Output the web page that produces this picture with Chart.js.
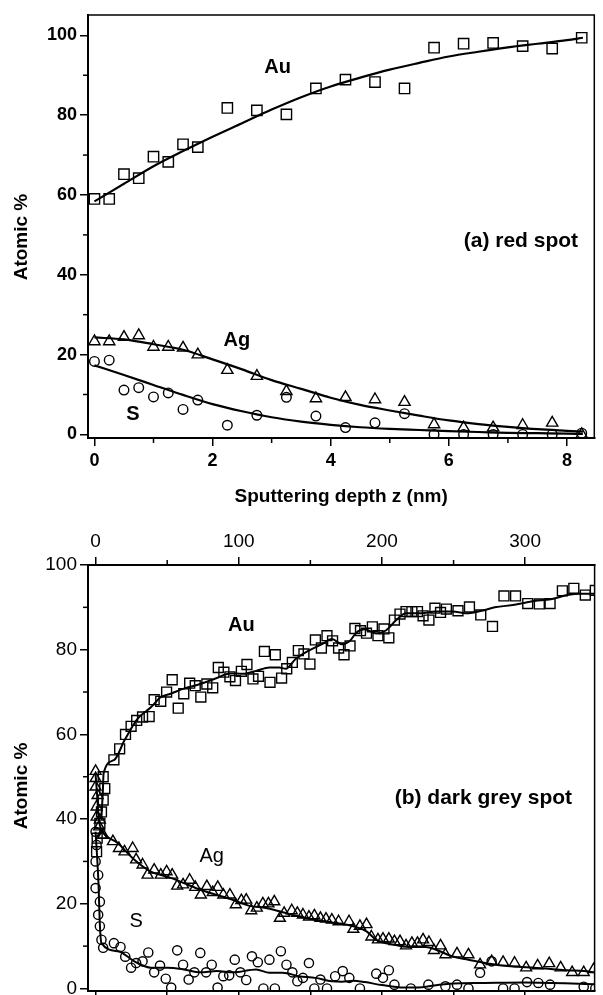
<!DOCTYPE html>
<html><head><meta charset="utf-8">
<script src="https://cdn.jsdelivr.net/npm/chart.js@4.4.1/dist/chart.umd.min.js"></script>
<style>
html,body{margin:0;padding:0;overflow:hidden;background:#fff;width:603px;height:995px}
#c1{position:absolute;left:0;top:0}
#c2{position:absolute;left:0;top:520px}
</style></head><body>
<canvas id="c1" width="603" height="520"></canvas>
<canvas id="c2" width="603" height="490"></canvas>
<script>
// ---------- Panel (a): red spot ----------
const aDepth = [0,0.25,0.5,0.75,1,1.25,1.5,1.75,2.25,2.75,3.25,3.75,4.25,4.75,5.25,5.75,6.25,6.75,7.25,7.75,8.25];
const aAu = [59,59,65.2,64.2,69.6,68.3,72.7,72,81.8,81.2,80.2,86.7,88.9,88.3,86.7,96.9,97.9,98.1,97.3,96.7,99.4];
const aAg = [23.3,23.3,24.4,24.8,21.9,21.9,21.7,20,16.1,14.6,10.8,9,9.3,8.75,8.1,2.5,1.7,1.7,2.3,2.9,0];
const aS  = [18.3,18.6,11.1,11.7,9.4,10.4,6.25,8.6,2.3,4.8,9.3,4.6,1.7,2.9,5.2,0,0,0,0,0,0.3];
const aFitX  = [0,0.5,1,1.5,2,2.5,3,3.5,4,4.5,5,5.5,6,6.5,7,7.5,8,8.27];
const aAuFit = [58.4,62.8,67.2,71.0,74.6,78.0,81.4,84.5,87.2,89.4,91.4,93.1,94.7,95.9,97.0,97.9,98.8,99.4];
const aAgFit = [24.3,23.8,22.6,21.2,18.8,16.3,13.6,11.4,9.2,7.4,6.0,4.7,3.5,2.6,1.9,1.3,0.9,0.7];
const aSFit  = [17.3,14.9,12.4,9.9,7.6,5.8,4.3,3.2,2.4,1.8,1.4,1.1,0.8,0.6,0.4,0.3,0.2,0.1];
const aXTicks = [0,2,4,6,8];
const aYTicks = [0,20,40,60,80,100];

// ---------- Panel (b): dark grey spot ----------
const bAuX = [0.7,1.1,3,4.1,5.3,6.4,5.3,12.8,16.8,20.9,24.8,28.7,32.8,37.4,40.9,45.5,49.6,53.5,57.7,61.6,65.7,69.6,73.5,77.7,81.8,85.7,89.6,93.8,97.7,101.8,105.7,109.9,113.8,117.9,121.8,125.5,129.9,133.5,137.4,141.6,145.5,149.7,153.5,157.7,161.6,165.5,169.7,173.5,177.7,181.1,185,189.2,193.3,197.2,201.4,204.8,208.7,212.6,216.8,220.9,224.8,228.7,232.8,237,240.9,245,253.1,261.1,269,277.2,285.2,293.3,301.8,309.9,317.4,326,334,342,349];
const bAuY = [32.3,35.5,39,41.7,44.5,47.2,50,54,56.6,60,61.9,63.3,64.1,64.2,68.2,67.8,70,72.9,66.2,69.6,72.1,71.5,68.8,71.9,71,75.8,74.7,73.6,72.7,74.9,76.5,73.1,73.7,79.6,72.3,78.8,73.3,75.5,77,79.8,79,76.6,82.3,80.4,83.3,82.1,80.4,78.8,80.9,85,84.5,83.9,85.4,83.3,84.9,82.8,87,88.4,89,89,89,88,87,89.8,88.8,89.6,89.2,90.1,88.2,85.5,92.7,92.7,90.9,90.8,90.9,93.9,94.5,92.9,94];
const bAgX = [0,0,0,1.4,0.7,0.7,3,2.5,4.1,5.3,12.1,16.3,20.2,25.9,28.3,32.8,36.3,40.9,45.5,49.6,53.5,57,61.1,65.7,69.6,73.5,77.7,81.8,85.3,89.2,93.8,97.9,101.8,105.2,108.7,112.6,116.8,120.7,124.8,128.7,131.7,137,140.9,144.8,149,152.8,157,160.9,165,169.7,177,180,184.6,189.2,192.6,197.2,200.7,204.8,208.7,212.6,216.8,220.9,224.8,228.7,232.8,236.3,240.9,244.3,252.4,260.4,268.5,276.6,284.6,292.6,300.7,308.7,316.8,324.8,332.8,340.9,347.8];
const bAgY = [51.3,49.6,47.6,45.6,42.9,40.5,39.8,38.2,36.2,36.2,34.7,33.1,32.3,33.1,30.4,29.2,26.8,28,26.8,27.6,26.8,24.2,24.5,25.6,23.9,22.1,24.1,22.7,23.9,22.1,22.1,19.8,20.8,20.9,18.4,19,20,20,20.5,16.6,17.8,18.4,17.8,17.4,16.9,17.2,16.6,16.4,16.2,15.8,15.8,14,14.7,15.1,12.2,11.5,11.7,11.7,11.1,11.1,10.1,10.7,10.7,11.5,10.9,9,10.1,8,8.2,8,5.6,6.4,6.2,6,4.9,5.4,5.9,4.9,3.8,3.8,4.5];
const bSX = [0,0.7,0,1.8,0,3,1.8,3,4.1,5.3,12.8,17.4,20.7,24.8,28.3,32.8,36.8,40.9,45,49,52.8,57,61.1,65,69,73.1,77.2,81.1,85.2,89.2,93.3,97.2,101.1,105.2,109.2,113.3,117.2,121.4,125.2,129.4,133.3,137.4,140.9,144.8,149,152.8,157,161.6,167.3,172.6,177.2,184.6,196,200.7,204.8,208.7,220.2,232.4,244.3,252.4,260.4,268.5,276.6,284.6,292.6,301.3,309.2,317.4,340.9,349];
const bSY = [37,33.9,30,26.8,23.7,20.5,17.4,14.7,11.5,9.6,10.7,9.8,7.5,4.9,6,6.4,8.5,3.8,5.4,2.3,0.2,9,5.6,2.1,3.8,8.4,3.8,5.6,0.2,2.9,3.1,6.8,3.8,2,7.6,6.2,0,6.8,0,8.8,5.6,3.8,1.7,2.5,6,0,2.1,0,2.9,4.1,2.5,0,3.5,2.5,4.3,0.9,0,0.9,0.5,0.9,0,3.7,6.4,0,0,1.5,1.3,0.9,0.4,0];
const bAuFitX = [4,5,5.6,12.8,20.2,29.4,38.6,45.5,52.4,61.6,73.1,84.6,93.8,103,112.1,121.4,128.3,132.8,139.7,149,158.1,165,172,177.7,182,188,196,203,210,216.8,225.9,237.4,249,260.4,269.7,278.8,292.6,306.4,317.9,329.4,338.6,349];
const bAuFitY = [40,46,50.8,53.9,58.6,63.7,66.4,68.8,69.6,70.8,71.9,73.3,74.4,74.3,75,75.8,75.8,75.5,77.8,79.8,81.3,82.5,81.3,82.1,84,84.8,83.8,84.6,87,88.6,88.6,89,89,88.6,89.2,90,90.6,91.5,91.9,92.9,93.2,93.2];
const bAgFitX = [0,1,2,3,4.1,15.6,27.1,38.6,50.1,61.6,73.1,84.6,96.1,107.6,119,130.6,142.1,153.5,165,172,180,189.2,196,207.6,219,230.6,237.4,249,260.4,271.9,283.4,294.9,306.4,317.9,329.4,340.9,349];
const bAgFitY = [50.5,46,41,38.5,37.4,34.3,30.4,27.6,26.4,24.9,23.3,22.1,20.9,19.5,19,18,17,16.2,15.6,15.3,14.7,13.5,11.5,10.4,9.8,9.8,9.2,7.6,6.8,6,5.4,5.1,4.9,4.6,4.3,4.1,3.8];
const bSFitX = [0,2,3,4.1,15.6,27.1,38.6,50.1,61.6,73.1,84.6,96.1,112.1,121.4,130.6,142.1,153.5,165,172,180,188,200,215,228,240,250,270,300,349];
const bSFitY = [37,25,15,10.7,8.8,6.4,4.9,4.9,4.5,3.8,4.1,3.8,4.5,3.7,3.7,2.9,2.5,1.7,1.6,1.8,1.5,0.8,0.2,0.3,0.9,1.2,1.3,1.4,1.0];
const bXTicks = [0,100,200,300];
const bXTicksBottom = [0,50,100,150,200,250,300];
const bYTicks = [0,20,40,60,80,100];

const F = "'Liberation Sans', Arial, Helvetica, sans-serif";
const pts = (xs, ys) => xs.map((x, i) => ({x, y: ys[i]}));

function makeDecor(cfg) {
  return {
    id: 'decor',
    afterDraw(chart) {
      const ctx = chart.ctx, a = chart.chartArea;
      ctx.save();
      ctx.strokeStyle = '#000';
      ctx.lineWidth = cfg.frameWidth;
      ctx.beginPath();
      ctx.moveTo(a.left, a.top); ctx.lineTo(a.right, a.top); ctx.lineTo(a.right, a.bottom);
      ctx.stroke();
      cfg.minor.forEach(m => {
        const s = chart.scales[m.id];
        ctx.lineWidth = m.w;
        m.values.forEach(v => {
          const p = s.getPixelForValue(v);
          ctx.beginPath();
          if (s.isHorizontal()) {
            const y = m.side === 'top' ? a.top : a.bottom;
            ctx.moveTo(p, y); ctx.lineTo(p, m.side === 'top' ? y - m.len : y + m.len);
          } else {
            ctx.moveTo(a.left, p); ctx.lineTo(a.left - m.len, p);
          }
          ctx.stroke();
        });
      });
      cfg.labels.forEach(l => {
        ctx.font = l.font; ctx.fillStyle = '#000';
        ctx.textAlign = 'center'; ctx.textBaseline = 'middle';
        ctx.fillText(l.text, chart.scales.x.getPixelForValue(l.x), chart.scales.y.getPixelForValue(l.y));
      });
      ctx.restore();
    }
  };
}

function markers(data, style, r, order) {
  return {data, showLine: false, pointStyle: style, pointRadius: r, pointBorderWidth: 1.4,
    pointBorderColor: '#000', pointBackgroundColor: 'rgba(0,0,0,0)', order};
}
function fitLine(data, w) {
  return {data, showLine: true, pointRadius: 0, borderColor: '#000', borderWidth: w,
    cubicInterpolationMode: 'monotone', fill: false, order: 0};
}
const axisBase = (font) => ({
  grid: {drawOnChartArea: false, drawTicks: true, tickLength: 8, color: '#000', lineWidth: 1.5},
  border: {display: true, color: '#000', width: 2},
  ticks: {font, color: '#000', padding: 3, includeBounds: false}
});

// ---------- Chart (a) ----------
{
  const tf = {family: F, size: 18, weight: 'bold'};
  const xa = axisBase(tf), ya = axisBase(tf);
  new Chart(document.getElementById('c1'), {
    type: 'scatter',
    data: {datasets: [
      fitLine(pts(aFitX, aAuFit), 2.2), fitLine(pts(aFitX, aAgFit), 2.2), fitLine(pts(aFitX, aSFit), 2.2),
      markers(pts(aDepth, aAu), 'rect', 7.3, 1),
      markers(pts(aDepth, aAg), 'triangle', 6.5, 1),
      markers(pts(aDepth, aS), 'circle', 4.8, 1)
    ]},
    options: {
      responsive: false, animation: false, events: [],
      layout: {padding: {top: 15, right: 2, left: 0, bottom: 0}},
      plugins: {legend: {display: false}, tooltip: {enabled: false}},
      scales: {
        x: {type: 'linear', min: -0.109, max: 8.463, ...xa,
          ticks: {...xa.ticks, stepSize: 2, padding: 4},
          afterBuildTicks: s => { s.ticks = aXTicks.map(v => ({value: v})); },
          title: {display: true, text: 'Sputtering depth z (nm)', color: '#000',
            font: {family: F, size: 19, weight: 'bold'}, padding: {top: 0, bottom: 12}},
          afterFit: s => { s.height = 82; }},
        y: {type: 'linear', min: -0.9, max: 105.1, ...ya,
          ticks: {...ya.ticks, stepSize: 20},
          afterBuildTicks: s => { s.ticks = aYTicks.map(v => ({value: v})); },
          title: {display: true, text: 'Atomic %    ', color: '#000',
            font: {family: F, size: 19, weight: 'bold'}, padding: {top: 10, bottom: 0}},
          afterFit: s => { s.width = 88; }}
      }
    },
    plugins: [makeDecor({
      frameWidth: 1.5,
      minor: [
        {id: 'x', values: [1,3,5,7], len: 5, w: 1.5, side: 'bottom'},
        {id: 'y', values: [10,30,50,70,90], len: 5, w: 1.5}
      ],
      labels: [
        {text: 'Au', x: 3.1, y: 92, font: `bold 20px ${F}`},
        {text: '(a) red spot', x: 7.22, y: 48.3, font: `bold 21px ${F}`},
        {text: 'Ag', x: 2.41, y: 23.6, font: `bold 20px ${F}`},
        {text: 'S', x: 0.65, y: 5, font: `bold 20px ${F}`}
      ]
    })]
  });
}

// ---------- Chart (b) ----------
{
  const tf = {family: F, size: 19, weight: 'normal'};
  const xa = axisBase(tf), ya = axisBase(tf), x2a = axisBase(tf);
  new Chart(document.getElementById('c2'), {
    type: 'scatter',
    data: {datasets: [
      fitLine(pts(bAuFitX, bAuFitY), 2), fitLine(pts(bAgFitX, bAgFitY), 2), fitLine(pts(bSFitX, bSFitY), 2),
      markers(pts(bAuX, bAuY), 'rect', 7, 1),
      markers(pts(bAgX, bAgY), 'triangle', 6.3, 1),
      markers(pts(bSX, bSY), 'circle', 4.6, 1)
    ]},
    options: {
      responsive: false, animation: false, events: [],
      layout: {padding: {top: 0, right: 2, left: 0, bottom: 0}},
      plugins: {legend: {display: false}, tooltip: {enabled: false}},
      scales: {
        x: {type: 'linear', position: 'top', min: -5.3, max: 348.5, ...xa,
          ticks: {...xa.ticks, stepSize: 100, padding: 4},
          afterBuildTicks: s => { s.ticks = bXTicks.map(v => ({value: v})); },
          afterFit: s => { s.height = 45; }},
        x2: {type: 'linear', position: 'bottom', min: -5.3, max: 348.5, ...x2a,
          ticks: {...x2a.ticks, stepSize: 50, callback: () => ''},
          afterBuildTicks: s => { s.ticks = bXTicksBottom.map(v => ({value: v})); },
          afterFit: s => { s.height = 19; }},
        y: {type: 'linear', min: -0.6, max: 100, ...ya,
          ticks: {...ya.ticks, stepSize: 20},
          afterBuildTicks: s => { s.ticks = bYTicks.map(v => ({value: v})); },
          title: {display: true, text: 'Atomic %   ', color: '#000',
            font: {family: F, size: 19, weight: 'bold'}, padding: {top: 10, bottom: 0}},
          afterFit: s => { s.width = 88; }}
      }
    },
    plugins: [makeDecor({
      frameWidth: 1.5,
      minor: [
        {id: 'x', values: [50,150,250], len: 5, w: 1.5, side: 'top'},
        {id: 'y', values: [10,30,50,70,90], len: 5, w: 1.5}
      ],
      labels: [
        {text: 'Au', x: 101.8, y: 85.6, font: `bold 20px ${F}`},
        {text: '(b) dark grey spot', x: 270.8, y: 44.9, font: `bold 21px ${F}`},
        {text: 'Ag', x: 81.1, y: 31.1, font: `20px ${F}`},
        {text: 'S', x: 28.3, y: 15.8, font: `20px ${F}`}
      ]
    })]
  });
}
</script></body></html>
